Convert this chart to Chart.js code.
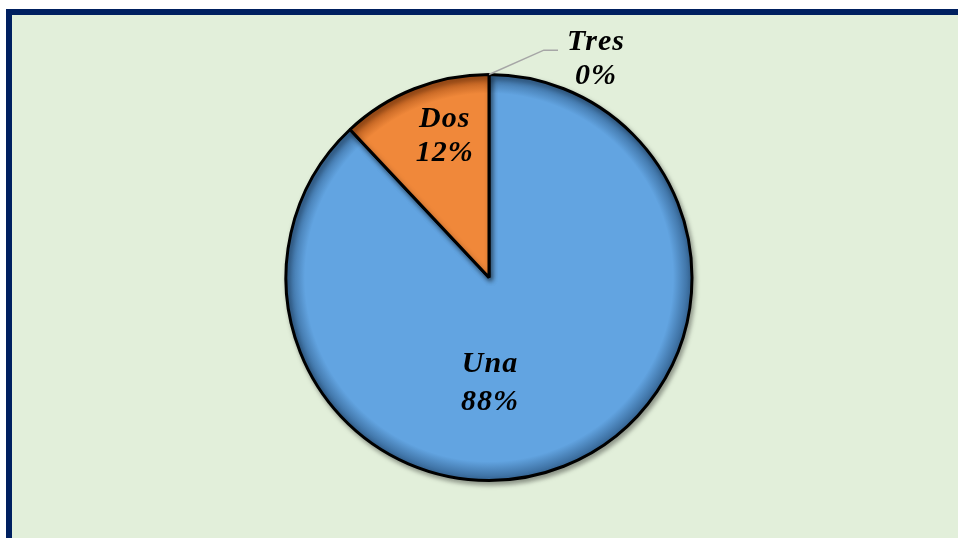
<!DOCTYPE html>
<html>
<head>
<meta charset="utf-8">
<script src="https://cdn.jsdelivr.net/npm/chart.js@4/dist/chart.umd.min.js"></script>
<style>
    html, body { margin: 0; padding: 0; background: #ffffff; overflow: hidden; }
    .frame {
        position: absolute; left: 6px; top: 9px; width: 960px; height: 540px;
        background: #e2efda; border-top: 6px solid #002060; border-left: 6px solid #002060;
    }
    #wrap { position: absolute; left: 0; top: 0; width: 958px; height: 538px; }
</style>
</head>
<body>
<div class="frame"></div>
<div id="wrap"><canvas id="pieChart"></canvas></div>
<script>
// chart data
const categories = ['Una', 'Dos', 'Tres'];
const values = [88, 12, 0];
const percentLabels = ['88%', '12%', '0%'];
const sliceColors = ['#62a4e1', '#f0883a', '#a5a5a5'];
const edgeColors = ['#3b6d9e', '#b0561a', '#707070'];

const labelFont = 'italic bold 30px "Liberation Serif", "DejaVu Serif", serif';

// radial shading so the slices get the bevelled look near the rim
function sliceFill(ctx) {
    const chart = ctx.chart;
    const area = chart.chartArea;
    const i = ctx.dataIndex;
    if (!area) return sliceColors[i];
    const cx = (area.left + area.right) / 2;
    const cy = (area.top + area.bottom) / 2;
    const r = Math.min(area.right - area.left, area.bottom - area.top) / 2;
    const g = chart.ctx.createRadialGradient(cx, cy, 0, cx, cy, r);
    g.addColorStop(0, sliceColors[i]);
    g.addColorStop(0.9, sliceColors[i]);
    g.addColorStop(0.98, edgeColors[i]);
    g.addColorStop(1, edgeColors[i]);
    return g;
}

const shadowPlugin = {
    id: 'shadow',
    beforeDatasetsDraw(chart) {
        const c = chart.ctx;
        c.save();
        c.shadowColor = 'rgba(0, 0, 0, 0.35)';
        c.shadowBlur = 5;
        c.shadowOffsetX = 2;
        c.shadowOffsetY = 3;
    },
    afterDatasetsDraw(chart) {
        chart.ctx.restore();
    }
};

// data labels, placed from the arc geometry
const labelPlugin = {
    id: 'sliceLabels',
    afterDraw(chart) {
        const c = chart.ctx;
        const arcs = chart.getDatasetMeta(0).data;
        c.save();
        c.font = labelFont;
        c.letterSpacing = '1px';
        c.fillStyle = '#000000';
        c.textAlign = 'center';
        c.textBaseline = 'middle';
        arcs.forEach((arc, i) => {
            const cx = arc.x, cy = arc.y, r = arc.outerRadius;
            let x, y, gap = 17;
            if (values[i] === 0) {
                // outside label with leader line from the slice start
                const sx = cx + r * Math.cos(arc.startAngle);
                const sy = cy + r * Math.sin(arc.startAngle);
                const ex = sx + r * 0.27, ey = sy - r * 0.12;
                c.beginPath();
                c.strokeStyle = '#a6a6a6';
                c.lineWidth = 1.5;
                c.moveTo(sx, sy);
                c.lineTo(ex, ey);
                c.lineTo(ex + r * 0.07, ey);
                c.stroke();
                x = ex + r * 0.07 + 38;
                y = ey + 9;
            } else if (i === 0) {
                x = cx + 1;
                y = cy + r * 0.52;
                gap = 19;
            } else {
                const mid = (arc.startAngle + arc.endAngle) / 2;
                x = cx + r * 0.62 * Math.cos(mid) + 2;
                y = cy + r * 0.75 * Math.sin(mid);
            }
            c.fillText(categories[i], x, y - gap);
            c.fillText(percentLabels[i], x, y + gap);
        });
        c.restore();
    }
};

new Chart(document.getElementById('pieChart'), {
    type: 'pie',
    data: {
        labels: categories,
        datasets: [{
            data: values,
            backgroundColor: sliceFill,
            borderColor: '#000000',
            borderWidth: 3
        }]
    },
    options: {
        responsive: true,
        maintainAspectRatio: false,
        animation: false,
        layout: { padding: { left: 200, right: 180, top: 73, bottom: 56 } },
        plugins: {
            legend: { display: false },
            tooltip: { enabled: false }
        }
    },
    plugins: [shadowPlugin, labelPlugin]
});
</script>
</body>
</html>
